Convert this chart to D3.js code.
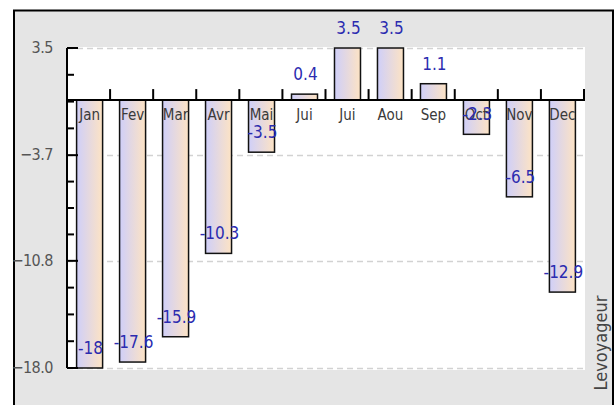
<!DOCTYPE html>
<html>
<head>
<meta charset="utf-8">
<script src="https://cdn.jsdelivr.net/npm/d3@7"></script>
<style>
  body { margin: 0; background: #fff; }
  svg { display: block; }
  .narrow { font-family: "Liberation Sans Narrow", "DejaVu Sans Condensed", "Liberation Sans", sans-serif; }
</style>
</head>
<body>
<div id="chart"></div>
<script>
// months and values
const months = ["Jan", "Fev", "Mar", "Avr", "Mai", "Jui", "Jui", "Aou", "Sep", "Oct", "Nov", "Dec"];
const values = [-18, -17.6, -15.9, -10.3, -3.5, 0.4, 3.5, 3.5, 1.1, -2.3, -6.5, -12.9];
const yTicks = [3.5, -3.7, -10.8, -18.0];
const yTitle = "Levoyageur";

const W = 616, H = 405;
const plot = {left: 67, right: 584, top: 48, bottom: 368};

const svg = d3.select("#chart").append("svg")
  .attr("width", W)
  .attr("height", H);

// gradient for the bars
const grad = svg.append("defs").append("linearGradient")
  .attr("id", "barGrad")
  .attr("x1", "0%").attr("x2", "100%").attr("y1", "0%").attr("y2", "0%");
grad.append("stop").attr("offset", "0%").attr("stop-color", "#cfcff9");
grad.append("stop").attr("offset", "100%").attr("stop-color", "#fde3c4");

// outer panel
svg.append("rect")
  .attr("x", 14).attr("y", 10.5)
  .attr("width", 599).attr("height", 420)
  .attr("fill", "#e5e5e5")
  .attr("stroke", "#000")
  .attr("stroke-width", 2);

// white plot area
svg.append("rect")
  .attr("x", plot.left).attr("y", plot.top - 1)
  .attr("width", plot.right - plot.left + 1)
  .attr("height", plot.bottom - plot.top + 3)
  .attr("fill", "#fff");

const x = d3.scaleBand()
  .domain(d3.range(months.length))
  .range([plot.left + 1, plot.right])
  .paddingInner(0.395)
  .paddingOuter(0.2);

const y = d3.scaleLinear()
  .domain([yTicks[yTicks.length - 1], yTicks[0]])
  .range([plot.bottom, plot.top]);

// dashed grid lines
svg.append("g")
  .selectAll("line")
  .data(yTicks)
  .join("line")
    .attr("x1", plot.left)
    .attr("x2", plot.right)
    .attr("y1", d => Math.round(y(d)) + 0.5)
    .attr("y2", d => Math.round(y(d)) + 0.5)
    .attr("stroke", "#d2d2d2")
    .attr("stroke-width", 1.5)
    .attr("stroke-dasharray", "6,4");

// bars
svg.append("g")
  .selectAll("rect")
  .data(values)
  .join("rect")
    .attr("x", (d, i) => x(i))
    .attr("width", x.bandwidth())
    .attr("y", d => y(Math.max(0, d)))
    .attr("height", d => Math.abs(y(d) - y(0)))
    .attr("fill", "url(#barGrad)")
    .attr("stroke", "#111")
    .attr("stroke-width", 1.5);

// y axis with inward ticks
const yAxis = svg.append("g");
yAxis.append("line")
  .attr("x1", plot.left).attr("x2", plot.left)
  .attr("y1", y(yTicks[0])).attr("y2", y(yTicks[yTicks.length - 1]))
  .attr("stroke", "#000").attr("stroke-width", 2);

const minor = [];
for (let k = 0; k < yTicks.length - 1; k++) {
  for (let j = 1; j < 4; j++) minor.push(yTicks[k] + (yTicks[k + 1] - yTicks[k]) * j / 4);
}
yAxis.selectAll(".minor")
  .data(minor)
  .join("line")
    .attr("class", "minor")
    .attr("x1", plot.left).attr("x2", plot.left + 7)
    .attr("y1", d => y(d)).attr("y2", d => y(d))
    .attr("stroke", "#000").attr("stroke-width", 2);
yAxis.selectAll(".major")
  .data(yTicks)
  .join("line")
    .attr("class", "major")
    .attr("x1", plot.left).attr("x2", plot.left + 11)
    .attr("y1", d => y(d)).attr("y2", d => y(d))
    .attr("stroke", "#000").attr("stroke-width", 2);
yAxis.selectAll("text")
  .data(yTicks)
  .join("text")
    .attr("class", "narrow")
    .attr("x", 53)
    .attr("y", d => y(d))
    .attr("dy", "0.3em")
    .attr("text-anchor", "end")
    .attr("fill", "#555")
    .style("font-size", "16px")
    .style("letter-spacing", "-0.5px")
    .text(d => d3.format(".1f")(d));

// x axis at zero with upward ticks on band edges
const xAxis = svg.append("g");
xAxis.append("line")
  .attr("x1", plot.left).attr("x2", plot.right + 1)
  .attr("y1", y(0)).attr("y2", y(0))
  .attr("stroke", "#000").attr("stroke-width", 2);
const step = (plot.right - plot.left) / months.length;
xAxis.selectAll("line.tick")
  .data(d3.range(1, months.length + 1))
  .join("line")
    .attr("class", "tick")
    .attr("x1", i => plot.left + i * step).attr("x2", i => plot.left + i * step)
    .attr("y1", y(0)).attr("y2", y(0) - 11)
    .attr("stroke", "#000").attr("stroke-width", 2);

// month labels
svg.append("g")
  .selectAll("text")
  .data(months)
  .join("text")
    .attr("class", "narrow")
    .attr("x", (d, i) => x(i) + x.bandwidth() / 2)
    .attr("y", y(0) + 15)
    .attr("dy", "0.35em")
    .attr("text-anchor", "middle")
    .attr("fill", "#3a3a3a")
    .style("font-size", "15px")
    .text(d => d);

// value labels
svg.append("g")
  .selectAll("text")
  .data(values)
  .join("text")
    .attr("class", "narrow")
    .attr("x", (d, i) => x(i) + x.bandwidth() / 2 + 1)
    .attr("y", d => y(d) - 20)
    .attr("dy", "0.35em")
    .attr("text-anchor", "middle")
    .attr("fill", "#2b2bb0")
    .style("font-size", "17px")
    .text(d => d);

// axis title on the right
svg.append("text")
  .attr("class", "narrow")
  .attr("transform", "translate(607,343) rotate(-90)")
  .attr("text-anchor", "middle")
  .attr("fill", "#444")
  .style("font-size", "18px")
  .text(yTitle);
</script>
</body>
</html>
